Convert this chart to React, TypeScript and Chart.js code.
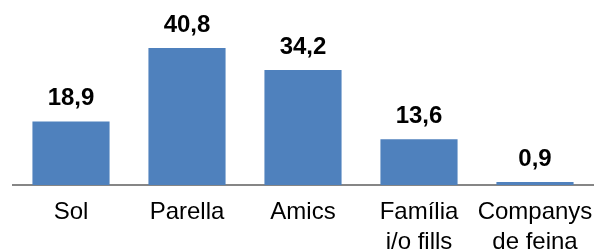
import React, { useEffect, useRef } from "react";
import { Chart, registerables } from "chart.js";

Chart.register(...registerables);

const categories: (string | string[])[] = ["Sol", "Parella", "Amics", ["Família", "i/o fills"], ["Companys", "de feina"]];
const values: number[] = [18.9, 40.8, 34.2, 13.6, 0.9];
const valueLabels: string[] = ["18,9", "40,8", "34,2", "13,6", "0,9"];

const FONT = "'Liberation Sans', Arial, sans-serif";

const dataLabelPlugin = {
  id: "dataLabels",
  afterDatasetsDraw(chart: any) {
    const ctx = chart.ctx;
    const meta = chart.getDatasetMeta(0);
    ctx.save();
    ctx.font = `bold 24px ${FONT}`;
    ctx.fillStyle = "#000000";
    ctx.textAlign = "center";
    ctx.textBaseline = "alphabetic";
    meta.data.forEach((bar: any, i: number) => {
      ctx.fillText(valueLabels[i], bar.x, bar.y - 16);
    });
    ctx.restore();
  },
};

export default function App() {
  const ref = useRef<HTMLCanvasElement | null>(null);
  useEffect(() => {
    if (!ref.current) return;
    const chart = new Chart(ref.current, {
      type: "bar",
      data: {
        labels: categories,
        datasets: [
          {
            data: values,
            backgroundColor: "#4F81BD",
            borderWidth: 0,
            categoryPercentage: 1,
            barPercentage: 0.665,
          },
        ],
      },
      options: {
        animation: false,
        responsive: false,
        maintainAspectRatio: false,
        layout: { padding: { left: 13, right: 2, top: 17, bottom: 0 } },
        plugins: { legend: { display: false }, tooltip: { enabled: false } },
        scales: {
          x: {
            grid: { display: false, drawTicks: false },
            border: { display: true, color: "#868686", width: 2 },
            ticks: {
              color: "#000000",
              font: { family: FONT, size: 24, lineHeight: 1.25 },
              padding: 12,
              maxRotation: 0,
              autoSkip: false,
            },
            afterFit: (scale: any) => {
              scale.height = 66;
              scale.paddingLeft = 0;
              scale.paddingRight = 0;
            },
          },
          y: {
            display: false,
            min: 0,
            max: 50,
          },
        },
      },
      plugins: [dataLabelPlugin],
    });
    return () => chart.destroy();
  }, []);
  return (
    <div style={{ position: "absolute", left: 0, top: 0, width: 595, height: 251 }}>
      <canvas ref={ref} width={595} height={251} style={{ width: 595, height: 251 }} />
    </div>
  );
}
